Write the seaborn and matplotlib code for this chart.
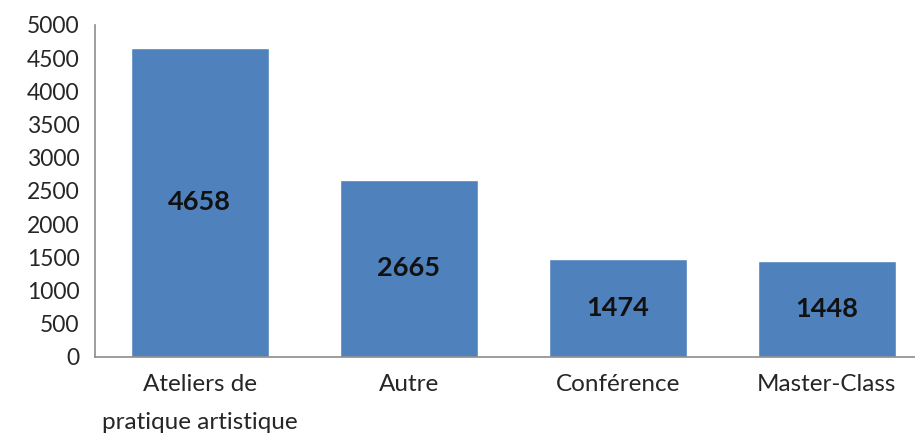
import matplotlib
matplotlib.use("Agg")
import matplotlib.pyplot as plt
import pandas as pd
import seaborn as sns
from matplotlib.ticker import FixedLocator

# Data
categories = ["Ateliers de\npratique artistique", "Autre", "Conférence", "Master-Class"]
values = [4658, 2665, 1474, 1448]

data = pd.DataFrame({"categorie": categories, "nombre": values})

sns.set_style("white")
plt.rcParams["font.family"] = ["Lato", "DejaVu Sans"]

fig = plt.figure(figsize=(9.15, 4.38), dpi=100)
ax = fig.add_axes([0.1038, 0.185, 0.914, 0.758])

sns.barplot(data=data, x="categorie", y="nombre", color="#4F81BD",
            width=0.66, saturation=1, ax=ax)

# Value labels in the middle of each bar
for container in ax.containers:
    ax.bar_label(container, label_type="center", fontsize=19.5,
                 fontweight="bold", color="#111111")

ax.set_ylim(0, 5000)
ax.set_yticks(range(0, 5001, 500))
ax.set_xlim(-0.5, 3.5)
ax.set_xlabel("")
ax.set_ylabel("")

axis_color = "#8C8C8C"
for side in ["top", "right"]:
    ax.spines[side].set_visible(False)
for side in ["left", "bottom"]:
    ax.spines[side].set_color(axis_color)
    ax.spines[side].set_linewidth(1.2)

ax.tick_params(axis="y", length=5, width=1.2, color=axis_color,
               labelsize=16.5, labelcolor="#262626", pad=6, direction="out")
ax.tick_params(axis="x", which="major", length=0, labelsize=17.5,
               labelcolor="#262626", pad=12)
ax.xaxis.set_minor_locator(FixedLocator([-0.5, 0.5, 1.5, 2.5, 3.5]))
ax.tick_params(axis="x", which="minor", length=6, width=1.2,
               color=axis_color, direction="out")

# wider line spacing for the two-line category label
fig.canvas.draw()
for tick in ax.xaxis.get_major_ticks():
    tick.label1.set_linespacing(2.0)

fig.savefig("out.png", dpi=100)
